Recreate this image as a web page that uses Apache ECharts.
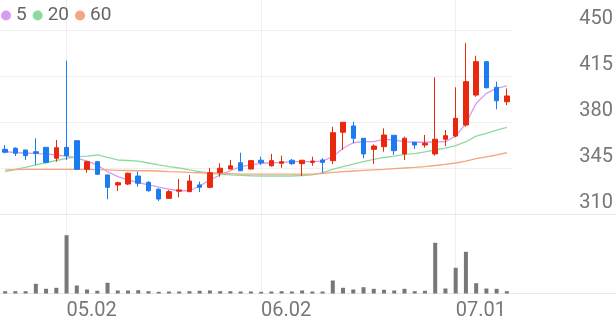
<!DOCTYPE html>
<html>
<head>
<meta charset="utf-8">
<script src="https://cdn.jsdelivr.net/npm/echarts@6/dist/echarts.min.js"></script>
<style>
html,body{margin:0;padding:0;background:#fff;}
#chart{width:616px;height:321px;}
</style>
</head>
<body>
<div id="chart"></div>
<script>
// ---- data ----
const dates = [
  '2025-04-23','2025-04-24','2025-04-25','2025-04-28','2025-04-29','2025-04-30',
  '2025-05-02','2025-05-07','2025-05-08','2025-05-09','2025-05-12','2025-05-13',
  '2025-05-14','2025-05-15','2025-05-16','2025-05-19','2025-05-20','2025-05-21',
  '2025-05-22','2025-05-23','2025-05-26','2025-05-27','2025-05-28','2025-05-29',
  '2025-05-30','2025-06-02','2025-06-04','2025-06-05','2025-06-09','2025-06-10',
  '2025-06-11','2025-06-12','2025-06-13','2025-06-16','2025-06-17','2025-06-18',
  '2025-06-19','2025-06-20','2025-06-23','2025-06-24','2025-06-25','2025-06-26',
  '2025-06-27','2025-06-30','2025-07-01','2025-07-02','2025-07-03','2025-07-04',
  '2025-07-07','2025-07-08'
];
const opens = [359.2,360.0,358.7,357.4,360.7,352.4,360.7,365.8,344.0,349.8,
  339.7,332.1,332.8,338.9,334.1,328.8,321.9,327.4,327.0,332.1,
  330.3,341.4,344.2,349.0,344.2,350.9,346.7,348.6,350.9,348.3,
  349.3,351.1,350.6,372.2,377.0,367.6,359.2,361.2,369.9,355.7,
  364.6,362.5,355.7,366.9,369.3,377.7,400.5,425.9,406.4,395.4];
const closes = [357.0,356.2,354.4,356.2,349.3,360.4,354.4,344.0,349.8,340.2,
  330.3,333.8,341.0,333.4,327.7,321.4,327.0,328.3,335.1,330.3,
  341.4,344.8,346.7,342.9,350.6,349.0,350.6,349.8,348.3,350.9,
  350.3,349.3,371.9,379.8,367.6,355.7,361.7,370.1,358.2,367.6,
  362.5,363.8,366.9,369.6,382.8,410.7,425.9,406.1,396.2,399.8];
const lows = [356.2,354.1,351.1,347.3,348.5,349.8,351.1,343.5,341.4,339.8,
  321.2,327.5,332.0,330.8,327.0,319.9,321.4,322.7,326.7,326.7,
  329.6,338.4,344.0,342.7,344.0,347.3,346.0,345.2,347.3,338.9,
  346.7,341.4,348.0,358.7,363.8,352.4,348.0,357.4,354.9,351.1,
  359.5,360.4,354.4,361.7,368.4,376.4,399.2,405.5,389.7,392.9];
const highs = [362.5,360.8,358.9,367.6,360.9,366.3,426.6,366.0,350.6,350.4,
  339.9,334.6,341.5,342.2,335.0,329.6,328.3,336.6,339.7,334.6,
  345.2,348.6,351.1,356.6,351.0,353.6,355.7,354.4,351.8,351.0,
  353.6,352.4,376.4,380.0,380.2,367.8,363.0,375.2,370.0,368.8,
  364.8,370.1,414.0,373.9,406.4,439.9,430.4,426.0,410.7,405.6];
const volumes = [46,46,46,194,94,114,1166,160,80,54,
  214,60,60,66,46,34,40,40,46,54,
  60,46,46,40,40,34,40,46,40,60,
  40,40,260,114,80,126,94,74,60,94,
  46,54,1014,100,514,834,206,100,94,46];
const ma5 = [357.4,356.8,356.4,356.0,355.7,354.9,354.1,352.6,350.3,347.3,
  342.2,338.4,335.9,333.8,332.1,330.5,329.0,327.7,327.7,331.3,
  335.9,339.7,342.9,346.0,347.3,348.6,349.0,349.3,349.8,349.8,
  349.8,350.3,353.6,360.0,364.2,365.0,365.0,366.8,366.3,365.0,
  364.6,364.6,364.8,365.0,369.3,379.0,394.2,401.8,405.6,407.4];
const ma20 = [342.2,343.9,345.5,347.3,349.0,350.7,352.4,353.4,354.1,354.9,
  353.0,351.1,350.7,350.3,348.8,347.3,346.1,345.0,343.5,342.2,
  341.0,340.3,339.7,339.4,339.1,338.9,338.9,338.9,338.9,339.3,
  339.7,341.4,343.9,346.0,348.0,349.9,351.5,353.0,354.1,355.3,
  356.0,357.2,358.7,360.2,362.1,365.0,369.3,371.4,373.9,376.0];
const ma60 = [343.5,343.7,343.9,344.0,344.0,344.0,344.0,344.0,343.9,343.7,
  343.5,343.2,343.1,342.9,342.9,342.7,342.3,342.0,341.6,341.4,
  341.2,341.0,340.7,340.4,340.4,340.4,340.4,340.4,340.4,340.4,
  340.4,340.8,341.6,342.2,342.7,343.2,343.6,344.0,344.5,345.0,
  345.5,346.1,346.9,347.7,348.8,350.3,352.2,353.5,354.9,356.6];
const priceTicks = [310, 345, 380, 415, 450];
const dateTicks = ['05.02', '06.02', '07.01'];
const maNames = ['5', '20', '60'];

// ---- build ----
const fmt = d => d.slice(5, 7) + '.' + d.slice(8, 10);
const candleData = dates.map((d, i) => [opens[i], closes[i], lows[i], highs[i]]);
const tickDates = dates.filter(d => dateTicks.includes(fmt(d)));
const showTick = (idx) => dateTicks.includes(fmt(dates[idx]));

const UP = '#e8290d', DOWN = '#1b7bf0';
const W = 616, PLOT_RIGHT = 104;
const MAIN_TOP = 30, MAIN_H = 184;
const VOL_TOP = 223.5, VOL_BOTTOM = 27.5;
const AXIS_COLOR = '#777';
const FONT = 'Roboto';

const chart = echarts.init(document.getElementById('chart'), null, {renderer: 'canvas'});
chart.setOption({
  animation: false,
  backgroundColor: '#fff',
  textStyle: {fontFamily: FONT},
  legend: {
    data: maNames,
    left: 1, top: 6, padding: 0,
    icon: 'circle', itemWidth: 10, itemHeight: 10, itemGap: 6,
    textStyle: {fontSize: 19, color: '#666', fontFamily: FONT}
  },
  grid: [
    {left: 0, right: PLOT_RIGHT, top: MAIN_TOP, height: MAIN_H},
    {left: 0, right: PLOT_RIGHT, top: VOL_TOP, bottom: VOL_BOTTOM},
    {left: 0, right: PLOT_RIGHT, top: 0, bottom: VOL_BOTTOM}
  ],
  xAxis: [
    {type: 'category', gridIndex: 0, data: dates, boundaryGap: true,
     axisLine: {show: false}, axisTick: {show: false}, axisLabel: {show: false}, splitLine: {show: false}},
    {type: 'category', gridIndex: 1, data: dates, boundaryGap: true,
     axisLine: {show: false}, axisTick: {show: false}, splitLine: {show: false},
     axisLabel: {interval: showTick, formatter: fmt, align: 'left', margin: 7,
       fontSize: 20, color: AXIS_COLOR, fontFamily: FONT}},
    {type: 'category', gridIndex: 2, data: dates, boundaryGap: true, show: false}
  ],
  yAxis: [
    {type: 'value', gridIndex: 0, position: 'right',
     min: priceTicks[0], max: priceTicks[priceTicks.length - 1], interval: priceTicks[1] - priceTicks[0],
     axisLine: {show: false}, axisTick: {show: false},
     splitLine: {show: true, lineStyle: {color: '#f0f0f0', width: 1}},
     axisLabel: {margin: 101, align: 'right', verticalAlign: 'bottom', padding: [0, 0, 1, 0],
       fontSize: 20, color: AXIS_COLOR, fontFamily: FONT}},
    {type: 'value', gridIndex: 1, min: 0, max: 1400, show: false},
    {type: 'value', gridIndex: 2, min: 0, max: 1, show: false}
  ],
  graphic: [
    {type: 'line', z: 1, silent: true,
     shape: {x1: 0, y1: MAIN_TOP + MAIN_H + 0.5, x2: W, y2: MAIN_TOP + MAIN_H + 0.5},
     style: {stroke: '#e8e8e8', lineWidth: 1}},
    {type: 'line', z: 1, silent: true,
     shape: {x1: 0, y1: 321 - VOL_BOTTOM, x2: W, y2: 321 - VOL_BOTTOM},
     style: {stroke: '#e8e8e8', lineWidth: 1}}
  ],
  series: [
    {type: 'line', xAxisIndex: 2, yAxisIndex: 2, data: [], silent: true, z: 0,
     markLine: {silent: true, z: 0, symbol: ['none', 'none'], label: {show: false},
       lineStyle: {color: '#eeeeee', width: 1, type: 'solid'},
       data: tickDates.map(d => ({xAxis: d}))}},
    {type: 'candlestick', name: 'price', xAxisIndex: 0, yAxisIndex: 0, data: candleData,
     barWidth: 5, z: 3,
     itemStyle: {color: UP, color0: DOWN, borderColor: UP, borderColor0: DOWN, borderWidth: 1}},
    {type: 'line', name: maNames[0], xAxisIndex: 0, yAxisIndex: 0, data: ma5, showSymbol: false,
     color: '#d79cf0', lineStyle: {width: 1.3}, z: 2},
    {type: 'line', name: maNames[1], xAxisIndex: 0, yAxisIndex: 0, data: ma20, showSymbol: false,
     color: '#8fdaa2', lineStyle: {width: 1.3}, z: 2},
    {type: 'line', name: maNames[2], xAxisIndex: 0, yAxisIndex: 0, data: ma60, showSymbol: false,
     color: '#f6a57f', lineStyle: {width: 1.3}, z: 2},
    {type: 'bar', name: 'volume', xAxisIndex: 1, yAxisIndex: 1, data: volumes,
     barWidth: 4, z: 3, itemStyle: {color: '#777'}}
  ]
});
</script>
</body>
</html>
